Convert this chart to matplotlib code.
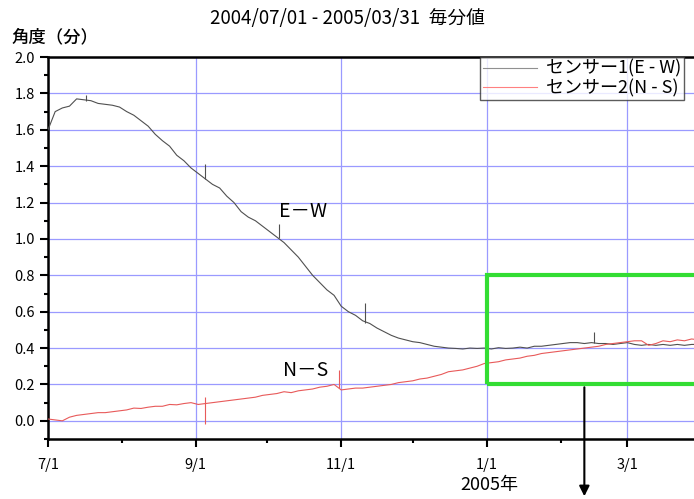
import matplotlib.pyplot as plt
import matplotlib.dates as mdates
import numpy as np
from matplotlib.patches import Rectangle

plt.rcParams['font.family'] = ['Noto Sans CJK JP', 'DejaVu Sans']

# sample days (every 3 days from 2004/07/01)
startDate = np.datetime64('2004-07-01')
days = np.arange(0, 274, 3)

ewValues = [1.60, 1.70, 1.72, 1.73, 1.77, 1.765, 1.76, 1.745, 1.74, 1.735,
	1.725, 1.70, 1.68, 1.65, 1.62, 1.575, 1.54, 1.51, 1.46, 1.43,
	1.39, 1.36, 1.33, 1.30, 1.28, 1.235, 1.20, 1.15, 1.12, 1.10,
	1.07, 1.04, 1.01, 0.98, 0.94, 0.90, 0.85, 0.80, 0.76, 0.72,
	0.69, 0.63, 0.60, 0.58, 0.55, 0.535, 0.51, 0.49, 0.47, 0.455,
	0.445, 0.435, 0.43, 0.42, 0.41, 0.405, 0.40, 0.398, 0.395, 0.40,
	0.398, 0.40, 0.395, 0.402, 0.398, 0.40, 0.405, 0.40, 0.41, 0.41,
	0.415, 0.42, 0.425, 0.43, 0.43, 0.425, 0.43, 0.425, 0.425, 0.42,
	0.425, 0.43, 0.42, 0.415, 0.42, 0.415, 0.42, 0.415, 0.42, 0.415,
	0.42, 0.42]

nsValues = [0.01, 0.005, 0.00, 0.02, 0.03, 0.035, 0.04, 0.045, 0.045, 0.05,
	0.055, 0.06, 0.07, 0.068, 0.075, 0.08, 0.08, 0.09, 0.088, 0.095,
	0.10, 0.09, 0.095, 0.10, 0.105, 0.11, 0.115, 0.12, 0.125, 0.13,
	0.14, 0.145, 0.15, 0.16, 0.155, 0.165, 0.17, 0.175, 0.185, 0.19,
	0.20, 0.17, 0.175, 0.18, 0.18, 0.185, 0.19, 0.195, 0.20, 0.21,
	0.215, 0.22, 0.23, 0.235, 0.245, 0.255, 0.27, 0.275, 0.28, 0.29,
	0.30, 0.315, 0.32, 0.325, 0.335, 0.34, 0.345, 0.355, 0.36, 0.37,
	0.375, 0.38, 0.385, 0.39, 0.395, 0.40, 0.405, 0.41, 0.42, 0.425,
	0.43, 0.435, 0.44, 0.44, 0.415, 0.425, 0.44, 0.435, 0.445, 0.44,
	0.45, 0.445]

# isolated spikes (day, low, high)
ewSpikeDays = [16, 66, 97, 133, 229]
ewSpikeLow = [1.76, 1.33, 1.005, 0.54, 0.43]
ewSpikeHigh = [1.79, 1.41, 1.08, 0.65, 0.49]
nsSpikeDays = [66, 122]
nsSpikeLow = [-0.02, 0.18]
nsSpikeHigh = [0.13, 0.28]

xTickDates = ['2004-07-01', '2004-09-01', '2004-11-01', '2005-01-01', '2005-03-01']
xTickLabels = ['7/1', '9/1', '11/1', '1/1', '3/1']
xMinorDates = ['2004-08-01', '2004-10-01', '2004-12-01', '2005-02-01']

def toDates(d):
	return (startDate + np.array(d).astype('timedelta64[D]')).astype('datetime64[s]').astype(object)

def dnum(s):
	return mdates.date2num(np.datetime64(s).astype(object))

fig = plt.figure(figsize=(6.94, 4.99), dpi=100)
ax = fig.add_axes([0.0692, 0.1202, 0.9308, 0.7655])

ewColor = '#505050'
nsColor = '#e85a5a'
ax.plot(toDates(days), ewValues, color=ewColor, lw=0.8, label='センサー1(E - W)', zorder=3)
ax.plot(toDates(days), nsValues, color=nsColor, lw=0.8, label='センサー2(N - S)', zorder=3)
ax.vlines(toDates(ewSpikeDays), ewSpikeLow, ewSpikeHigh, color=ewColor, lw=0.8, zorder=3)
ax.vlines(toDates(nsSpikeDays), nsSpikeLow, nsSpikeHigh, color=nsColor, lw=0.8, zorder=3)

ax.set_ylim(-0.1, 2.0)
ax.set_xlim(toDates([0])[0], toDates([271.6])[0])

ax.set_xticks([dnum(d) for d in xTickDates])
ax.set_xticklabels(xTickLabels)
ax.set_xticks([dnum(d) for d in xMinorDates], minor=True)
ax.set_yticks(np.arange(0, 2.01, 0.2))
ax.set_yticklabels(['%.1f' % v for v in np.arange(0, 2.01, 0.2)])
ax.set_yticks(np.arange(-0.1, 2.0, 0.2), minor=True)

ax.grid(True, which='major', color='#9a9aff', lw=0.9)
ax.set_axisbelow(True)
ax.tick_params(axis='both', which='major', direction='out', length=6, width=1.5, labelsize=10.5)
ax.tick_params(axis='both', which='minor', direction='out', length=3, width=1.5)
ax.tick_params(axis='x', pad=8)
for s in ['left', 'bottom', 'top']:
	ax.spines[s].set_linewidth(1.8)
ax.spines['right'].set_visible(False)

# highlight box and arrow
boxStart = dnum('2005-01-01')
boxEnd = dnum('2005-04-15')
ax.add_patch(Rectangle((boxStart, 0.2), boxEnd - boxStart, 0.6, fill=False, ec='#33dd33', lw=3, zorder=4))
arrowX = dnum('2005-02-11')
ax.annotate('', xy=(arrowX, -0.43), xytext=(arrowX, 0.2), annotation_clip=False,
	arrowprops=dict(arrowstyle='-|>', color='black', lw=1.5, mutation_scale=15))

ax.text(toDates([107])[0], 1.15, 'E－W', fontsize=14, ha='center', va='center')
ax.text(toDates([108])[0], 0.275, 'N－S', fontsize=14, ha='center', va='center')

leg = ax.legend(loc='upper right', bbox_to_anchor=(0.985, 1.0), fontsize=13, frameon=True, fancybox=False,
	borderpad=0.15, labelspacing=0.05, handlelength=3.0, handletextpad=0.5, borderaxespad=0)
leg.get_frame().set_edgecolor('#333333')
leg.get_frame().set_linewidth(1.0)
for line in leg.get_lines():
	line.set_linewidth(0.8)
leg.get_lines()[0].set_color('#909090')
leg.get_lines()[1].set_color('#ff8080')

fig.text(0.5, 0.963, '2004/07/01 - 2005/03/31  毎分値', fontsize=13.5, ha='center', va='center')
fig.text(0.017, 0.925, '角度（分）', fontsize=12.5, ha='left', va='center', fontweight='medium')
fig.text(0.705, 0.028, '2005年', fontsize=13, ha='center', va='center')

plt.savefig('out.png')
